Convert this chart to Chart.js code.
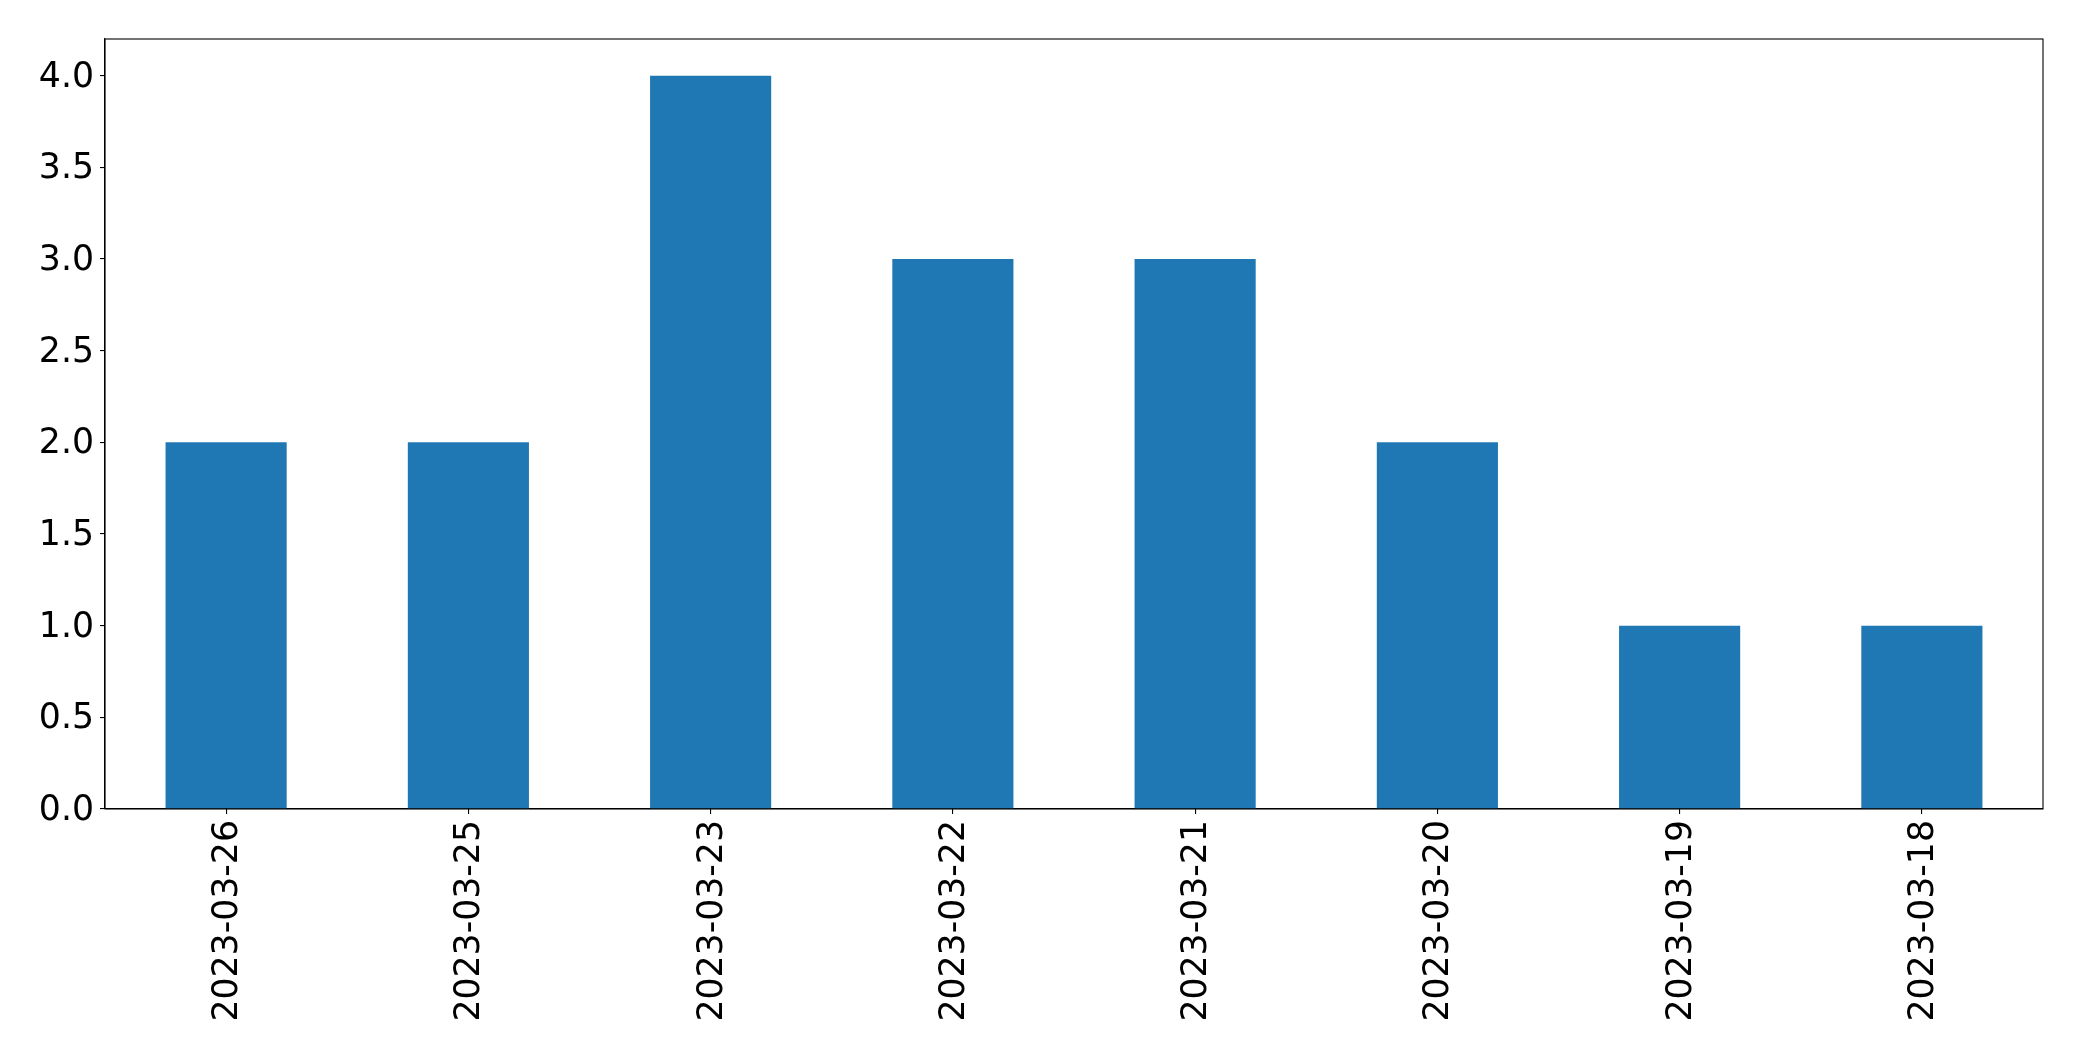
<!DOCTYPE html>
<html>
<head>
<meta charset="utf-8">
<script src="https://cdn.jsdelivr.net/npm/chart.js@4.4.1/dist/chart.umd.min.js"></script>
<style>
html,body{margin:0;padding:0;background:#fff;}
canvas{display:block;}
</style>
</head>
<body>
<canvas id="c" width="2082" height="1061"></canvas>
<script>
const categories = ["2023-03-26","2023-03-25","2023-03-23","2023-03-22","2023-03-21","2023-03-20","2023-03-19","2023-03-18"];
const counts = [2, 2, 4, 3, 3, 2, 1, 1];
const yTicks = [0, 0.5, 1.0, 1.5, 2.0, 2.5, 3.0, 3.5, 4.0];

const frame = {
  id: 'frame',
  afterDatasetsDraw(chart) {
    const {ctx, chartArea: a} = chart;
    ctx.save();
    ctx.strokeStyle = '#000';
    ctx.lineWidth = 1.1;
    ctx.strokeRect(a.left, a.top, a.right - a.left, a.bottom - a.top);
    ctx.restore();
  }
};

new Chart(document.getElementById('c'), {
  type: 'bar',
  data: {
    labels: categories,
    datasets: [{
      data: counts,
      backgroundColor: '#1f77b4',
      borderWidth: 0,
      barPercentage: 0.5,
      categoryPercentage: 1.0
    }]
  },
  options: {
    responsive: false,
    animation: false,
    devicePixelRatio: 1,
    layout: { padding: { left: 0, right: 39, top: 39, bottom: 0 } },
    plugins: { legend: { display: false }, tooltip: { enabled: false } },
    scales: {
      x: {
        offset: true,
        grid: { display: true, drawOnChartArea: false, drawTicks: true, tickLength: 5, color: '#000', lineWidth: 1.1, offset: false },
        border: { display: true, color: '#000', width: 1.1 },
        ticks: {
          color: '#000',
          font: { family: 'DejaVu Sans', size: 34.7 },
          minRotation: 90, maxRotation: 90,
          padding: 6,
          labelOffset: 2,
          autoSkip: false
        },
        afterFit(scale) { scale.height = 252; }
      },
      y: {
        min: 0, max: 4.2,
        grid: { display: true, drawOnChartArea: false, drawTicks: true, tickLength: 5, color: '#000', lineWidth: 1.1 },
        border: { display: true, color: '#000', width: 1.1 },
        ticks: {
          color: '#000',
          font: { family: 'DejaVu Sans', size: 34.7 },
          padding: 6,
          labelOffset: 2,
          callback: v => Number(v).toFixed(1)
        },
        afterBuildTicks(scale) { scale.ticks = yTicks.map(v => ({ value: v })); },
        afterFit(scale) { scale.width = 105; }
      }
    }
  },
  plugins: [frame]
});
</script>
</body>
</html>
